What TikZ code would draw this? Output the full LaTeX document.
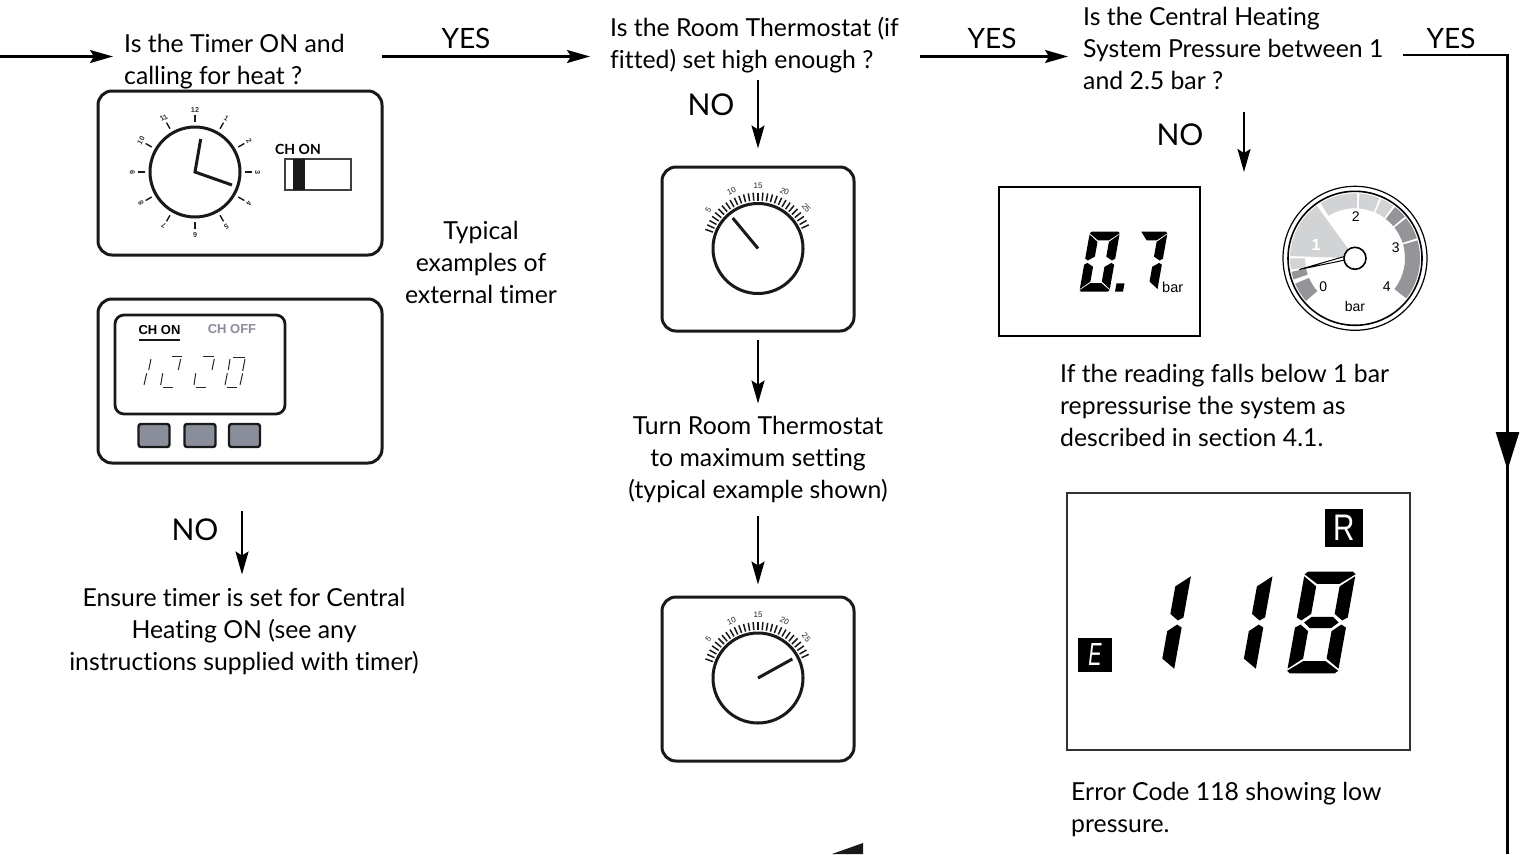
\documentclass[tikz,border=0pt]{standalone}
\usepackage{fontspec}
\usepackage{graphicx}
\setmainfont{Lato}[Ligatures=NoCommon]
\newfontfamily\arialf{Liberation Sans}
\usetikzlibrary{arrows.meta,calc}
\definecolor{lgray}{HTML}{D1D3D4}
\definecolor{dgray}{HTML}{939598}
\definecolor{btngray}{HTML}{8A8E9B}
\tikzset{
  x=1pt,y=-1pt,
  lbl/.style={inner sep=0pt,font=\fontsize{24.8}{32}\selectfont,text=black},
  leftlbl/.style={lbl,anchor=west,align=flush left},
  midlbl/.style={lbl,anchor=center,align=center},
  yeslbl/.style={inner sep=0pt,font=\fontsize{28}{32}\selectfont,text=black},
  nolbl/.style={inner sep=0pt,font=\fontsize{30}{32}\selectfont,text=black},
  arr/.style={line width=2.3pt,-{Stealth[length=23pt,width=13pt,inset=4pt]}},
  panel/.style={draw=black!90,line width=3pt,rounded corners=14pt,inner sep=0pt,fill=white},
  knob/.style={draw=black!90,line width=3pt,fill=white},
  hand/.style={line width=3pt,black!90},
  tinylab/.style={inner sep=0pt,text=black!80,font=\arialf\bfseries\fontsize{7.2}{7.2}\selectfont},
  scalelab/.style={inner sep=0pt,text=black!85,font=\arialf\fontsize{8}{8}\selectfont},
  gaugelab/.style={inner sep=0pt,text=black,font=\arialf\fontsize{14}{14}\selectfont},
  plainbox/.style={draw=black,inner sep=0pt,fill=white},
}
% 7-segment elements, in a 10 x 20 cell measured downwards from the top-left corner;
% \tv and \thz are the thicknesses of the upright and the level bars
\newcommand{\segT}{(0,0.5)--(0.6,0)--(9.4,0)--(10,0.5)--(10-\tv-0.1,\thz)--(\tv+0.1,\thz)--cycle}
\newcommand{\segB}{(0,19.5)--(0.6,20)--(9.4,20)--(10,19.5)--(10-\tv-0.1,20-\thz)--(\tv+0.1,20-\thz)--cycle}
\newcommand{\segUL}{(0,0.9)--(\tv,\thz+0.5)--(\tv,8.3)--(1,9.6)--(0,9)--cycle}
\newcommand{\segUR}{(10,0.9)--(10-\tv,\thz+0.5)--(10-\tv,8.3)--(9,9.6)--(10,9)--cycle}
\newcommand{\segLL}{(0,11)--(1,10.4)--(\tv,11.7)--(\tv,19.5-\thz)--(0,19.1)--cycle}
\newcommand{\segLR}{(10,11)--(9,10.4)--(10-\tv,11.7)--(10-\tv,19.5-\thz)--(10,19.1)--cycle}
\newcommand{\segM}{(1.6,10)--(2.9,8.9)--(7.1,8.9)--(8.4,10)--(7.1,11.1)--(2.9,11.1)--cycle}
\begin{document}
\begin{tikzpicture}
\useasboundingbox (0,0) rectangle (1525,854);
\fill[white] (0,0) rectangle (1525,854);

% ---- text nodes
\node[leftlbl,text width=232pt] (qtimer) at (124,62) {Is the Timer ON and\\calling for heat ?};
\node[leftlbl,text width=300pt] (qroom) at (610,45) {Is the Room Thermostat (if\\fitted) set high enough ?};
\node[leftlbl,text width=305pt] (qpress) at (1083,48) {Is the Central Heating\\System Pressure between 1\\and 2.5 bar ?};
\node[midlbl] (ttyp) at (481,262) {Typical\\examples of\\external timer};
\node[midlbl] (tensure) at (244,631) {Ensure timer is set for Central\\Heating ON (see any\\instructions supplied with timer)};
\node[midlbl] (tturn) at (758,459) {Turn Room Thermostat\\to maximum setting\\(typical example shown)};
\node[leftlbl] (tread) at (1060,405) {If the reading falls below 1 bar\\repressurise the system as\\described in section 4.1.};
\node[leftlbl] (terr) at (1071,809) {Error Code 118 showing low\\pressure.};
\node[yeslbl] (y1) at (466,38) {YES};
\node[yeslbl] (y2) at (992,38) {YES};
\node[yeslbl] (y3) at (1451,38) {YES};
\node[nolbl] (n1) at (711,105) {NO};
\node[nolbl] (n2) at (1180,135) {NO};
\node[nolbl] (n3) at (195,530) {NO};

% ---- panels
\node[panel,minimum width=284pt,minimum height=164pt] (timerA) at (240,173) {};
\node[panel,minimum width=284pt,minimum height=164pt] (timerB) at (240,381) {};
\node[panel,minimum width=192pt,minimum height=164pt] (thermA) at (758,249) {};
\node[panel,minimum width=192pt,minimum height=164pt] (thermB) at (758,679) {};
\node[plainbox,line width=2pt,minimum width=201pt,minimum height=149pt] (disp) at (1099.5,261.5) {};
\node[plainbox,line width=1.2pt,draw=black!80,minimum width=343pt,minimum height=257pt] (errbox) at (1238.5,621.5) {};

% ---- analog clock
\coordinate (cc) at (195,172);
\node[knob,circle,minimum size=90pt,inner sep=0pt] (clock) at (cc) {};
\foreach \h in {1,...,12}{
  \pgfmathsetmacro\a{90-30*\h}
  \draw[line width=1.4pt,black!90] ($(cc)+(\a:50pt)$) -- ($(cc)+(\a:57pt)$);
  \node[tinylab,rotate=\a-90] at ($(cc)+(\a:62.5pt)$) {\h};
}
\draw[hand] (232,185) -- (cc) -- (200.7,139);
\node[inner sep=0pt,font=\bfseries\fontsize{14}{14}\selectfont] (chonA) at (298,149) {CH ON};
\node[draw=black!75,line width=1.5pt,minimum width=66pt,minimum height=31pt,inner sep=0pt] (sw) at (318,174.5) {};
\fill[black!90] (293,159) rectangle (305,190);

% ---- digital timer
\node[panel,line width=2.8pt,rounded corners=9pt,minimum width=170pt,minimum height=99pt] (lcd) at (200,364.5) {};
\node[inner sep=0pt,font=\arialf\bfseries\fontsize{13}{13}\selectfont] (chonB) at (159.5,330) {CH ON};
\draw[line width=2pt,black!90] (139,340) -- (180,340);
\node[inner sep=0pt,text=btngray,font=\arialf\bfseries\fontsize{13}{13}\selectfont] (choff) at (232,329) {CH OFF};
\foreach \bx/\bn in {154/bA,200/bB,244.5/bC}
  \node[draw=black!90,fill=btngray,line width=2.4pt,rounded corners=2.5pt,minimum width=31pt,minimum height=23pt,inner sep=0pt] (\bn) at (\bx,435.5) {};
\begin{scope}[line width=1pt,black!85]
 % 1
 \draw (151,359) -- (148.7,370); \draw (146.7,373.3) -- (144,385);
 % 2
 \draw (171.7,356.7) -- (181.7,356.7); \draw (180.7,359) -- (178.3,370);
 \draw (162.7,373.3) -- (160.7,385); \draw (162.7,387.7) -- (172.7,387.7);
 % 2
 \draw (203.3,356.7) -- (214,356.7); \draw (214.3,359) -- (212,370);
 \draw (195.7,373.3) -- (194,385); \draw (196,387.7) -- (206,387.7);
 % 0
 \draw (233.3,357.7) -- (245,357.7); \draw (245,359) -- (242.7,371);
 \draw (230,359) -- (228.3,370); \draw (227.3,373.3) -- (225,385);
 \draw (227.3,387.7) -- (236.7,387.7); \draw (242.7,373.3) -- (240,385);
\end{scope}

% ---- room thermostats
\foreach \cy/\nx/\ny/\kn in {248.5/732.7/218/knobA,678/792.3/659/knobB}{
  \coordinate (tc) at (758,\cy);
  \node[knob,circle,minimum size=90pt,inner sep=0pt] (\kn) at (tc) {};
  \foreach \a in {25,30,...,160}
    \draw[line width=1.5pt,black!90] ($(tc)+(\a:48pt)$) -- ($(tc)+(\a:56pt)$);
  \foreach \a/\t in {142/5,115/10,90/15,65/20,40/25}
    \node[scalelab,rotate=\a-90] at ($(tc)+(\a:63pt)$) {\t};
  \draw[hand] (tc) -- (\nx,\ny);
}

% ---- 0.7 display
\def\tv{3.1}\def\thz{2.9}
\begin{scope}[shift={(1090,231.7)},x=3pt,y=-3pt,xslant=0.178]
  \fill[black] \segT \segB \segUL \segUR \segLL \segLR;
\end{scope}
\begin{scope}[shift={(1137.7,231.7)},x=3pt,y=-3pt,xslant=0.178]
  \fill[black] (1.2,0)--(9.4,0)--(10,0.5)--(6.8,2.9)--(3.5,2.9)--cycle \segUR \segLR;
\end{scope}
\fill[black] (1116.5,283.3) -- (1124.5,283.3) -- (1123,291.7) -- (1115,291.7) -- cycle;
\node[gaugelab,anchor=west,font=\arialf\fontsize{14.5}{14.5}\selectfont] (barA) at (1162,287) {bar};

% ---- gauge
\coordinate (gc) at (1355,258.3);
\node[circle,draw=black,line width=1.2pt,minimum size=144pt,inner sep=0pt,fill=white] (gaugeO) at (gc) {};
\node[circle,draw=black,line width=1.6pt,minimum size=134pt,inner sep=0pt,fill=white] (gaugeI) at (gc) {};
\foreach \f/\t/\c in {88/122/lgray,68/86/lgray,54/66/lgray,40/52/dgray,18/38/dgray,-38/16/dgray,192/199/dgray,203/221/dgray,180/190/lgray}{
  \fill[\c] ($(gc)+(\f:50pt)$) arc[start angle=\f,end angle=\t,radius=50pt] -- ($(gc)+(\t:65pt)$) arc[start angle=\t,end angle=\f,radius=65pt] -- cycle;
}
\fill[lgray] (gc) -- ($(gc)+(126:65pt)$) arc[start angle=126,end angle=178,radius=65pt] -- cycle;
\node[inner sep=0pt,text=white,font=\arialf\bfseries\fontsize{16}{16}\selectfont] (g1) at (1316,245) {1};
\node[gaugelab] (g2) at (1355.7,216.7) {2};
\node[gaugelab] (g3) at (1395.7,247.3) {3};
\node[gaugelab] (g4) at (1386.7,286.7) {4};
\node[gaugelab] (g0) at (1323.3,286.7) {0};
\node[gaugelab] (gbar) at (1355,306.7) {bar};
\filldraw[fill=white,draw=black,line width=1pt] (1299.3,269.5) -- (1345,256.3) -- (1345,260) -- cycle;
\node[circle,draw=black,line width=1.6pt,fill=white,minimum size=22pt,inner sep=0pt] (hub) at (gc) {};

% ---- 118 display
\node[fill=black,minimum width=37.7pt,minimum height=38pt,inner sep=0pt,text=white,font=\arialf\fontsize{37}{37}\selectfont] (rbox) at (1343.8,528) {\scalebox{.8}[1]{R}};
\node[fill=black,minimum width=34pt,minimum height=33.7pt,inner sep=0pt,text=white,font=\arialf\itshape\fontsize{32}{32}\selectfont] (ebox) at (1095,654.8) {\scalebox{.62}[1]{E}};
\def\tv{2.7}\def\thz{2.4}
\foreach \ox in {1140.7,1222.3}{
 \begin{scope}[shift={(\ox,571.7)},x=5.1pt,y=-5.08pt,xslant=0.18]
  \fill[black] \segUR \segLR;
 \end{scope}
}
\begin{scope}[shift={(1305,571.7)},x=5.1pt,y=-5.08pt,xslant=0.18]
  \fill[black] \segT \segB \segUL \segUR \segLL \segLR \segM;
\end{scope}

% ---- connectors
\coordinate (inflow) at (0,56.5);
\coordinate (rowA) at (0,56.5);
\coordinate (rowB) at (0,55);
\coordinate (corner) at (1507.5,55);
\coordinate (rail) at (1507.5,854);
\coordinate (railTip) at (1507.5,470);
\coordinate (qpOut) at (1244,112);
\coordinate (qpIn) at (1244,172);
\draw[arr,shorten >=11pt] (inflow) -- (qtimer.west |- rowA);
\draw[arr,shorten <=26pt,shorten >=20pt] (qtimer.east |- rowA) -- (qroom.west |- rowA);
\draw[arr,shorten <=10pt,shorten >=15pt] (qroom.east |- rowA) -- (qpress.west |- rowA);
\draw[line width=2.7pt,black,shorten <=15pt,line join=miter] (qpress.east |- rowB) -- (corner) -- (rail);
\draw[line width=2.7pt,-{Stealth[length=38pt,width=23pt,inset=0pt]}] (corner) -- (railTip);
\draw[arr,shorten <=7pt,shorten >=17pt] (qroom.south -| thermA.north) -- (thermA.north);
\draw[arr,shorten <=7pt,shorten >=12pt] (thermA.south) -- (tturn.north);
\draw[arr,shorten <=14pt,shorten >=11pt] (tturn.south) -- (thermB.north);
\draw[arr] (qpOut) -- (qpIn);
\draw[arr,shorten <=46pt,shorten >=13pt] ([xshift=2pt]timerB.south) -- ([xshift=2pt]timerB.south |- tensure.north);
% cut-off arrowhead at the foot of the picture
\fill[black!90] (832,854) -- (863,843) -- (863,854) -- cycle;
\end{tikzpicture}
\end{document}
